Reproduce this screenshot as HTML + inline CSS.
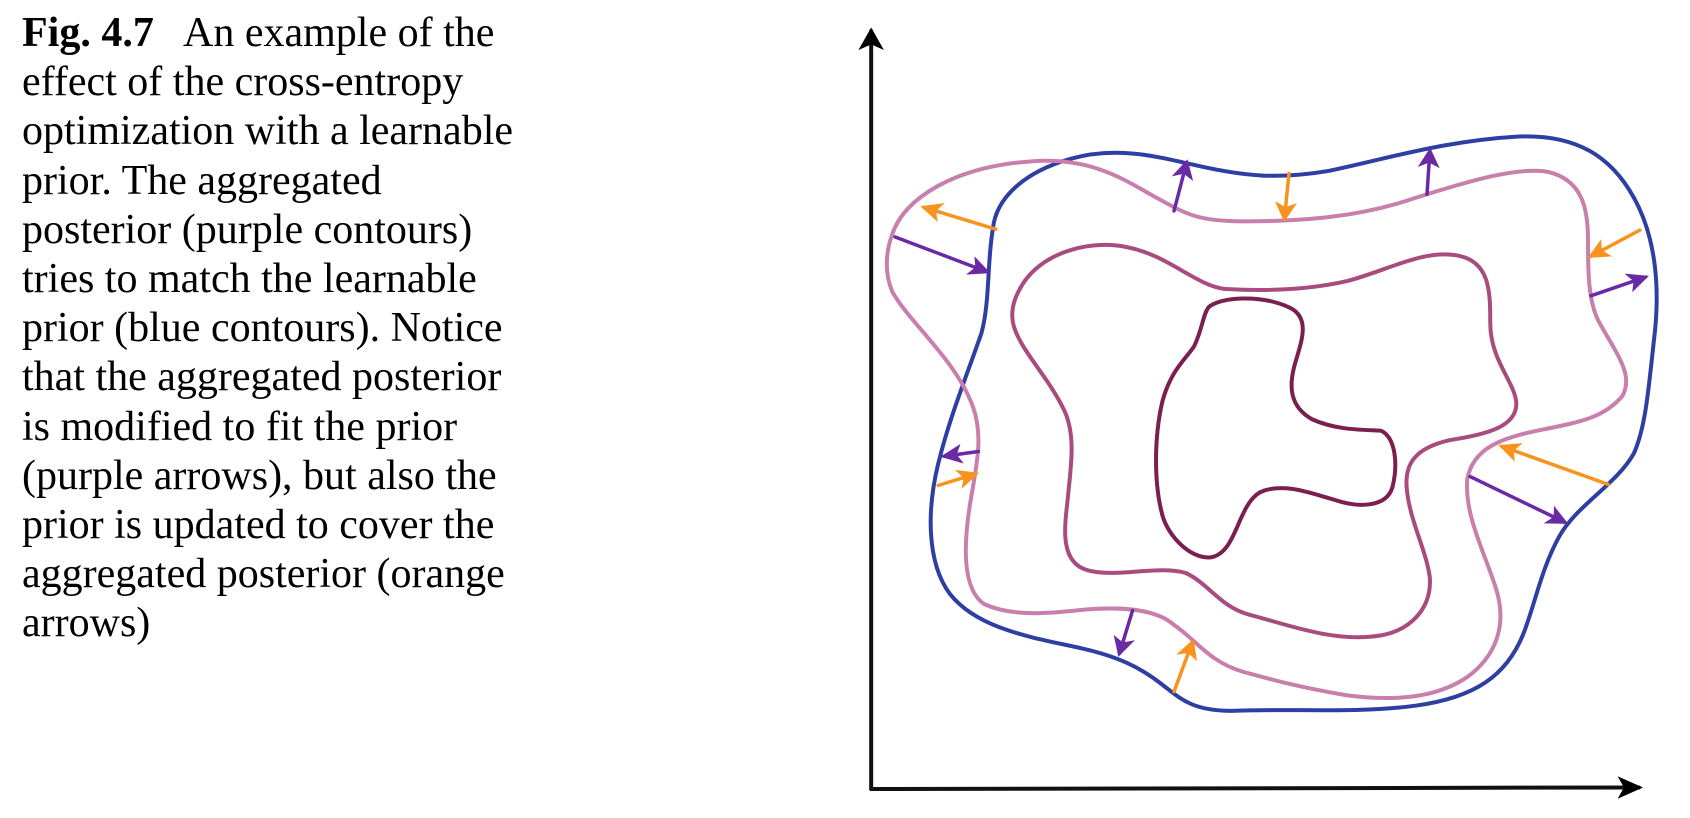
<!DOCTYPE html>
<html><head><meta charset="utf-8"><style>
html,body{margin:0;padding:0;background:#fff;width:1690px;height:818px;overflow:hidden}
#cap{position:absolute;left:22px;top:9px;font-family:"Liberation Serif",serif;font-size:42px;line-height:49.2px;color:#000;white-space:pre}
svg{position:absolute;left:0;top:0}
</style></head><body>
<div id="cap"><b>Fig. 4.7</b>   An example of the
effect of the cross-entropy
optimization with a learnable
prior. The aggregated
posterior (purple contours)
tries to match the learnable
prior (blue contours). Notice
that the aggregated posterior
is modified to fit the prior
(purple arrows), but also the
prior is updated to cover the
aggregated posterior (orange
arrows)</div>
<svg width="1690" height="818">
<defs>
<marker id="ha" markerWidth="6" markerHeight="6" refX="5" refY="3" orient="auto" markerUnits="strokeWidth"><path d="M0,0 L6,3 L0,6 L1.5,3 Z" fill="#000"/></marker>
<marker id="ho" markerWidth="6" markerHeight="6" refX="5" refY="3" orient="auto" markerUnits="strokeWidth"><path d="M0,0 L6,3 L0,6 L1.5,3 Z" fill="#f7931e"/></marker>
<marker id="hp" markerWidth="6" markerHeight="6" refX="5" refY="3" orient="auto" markerUnits="strokeWidth"><path d="M0,0 L6,3 L0,6 L1.5,3 Z" fill="#6a2aa5"/></marker>
</defs>
<g transform="translate(780,0) scale(0.5882,0.5208)" fill="none" stroke-linecap="round">
<line x1="155" y1="1515" x2="155" y2="60" stroke="#111" stroke-width="4" vector-effect="non-scaling-stroke" marker-end="url(#ha)"/>
<line x1="155" y1="1515" x2="1460" y2="1512" stroke="#111" stroke-width="4" vector-effect="non-scaling-stroke" marker-end="url(#ha)"/>
</g>
<g transform="translate(783,0) scale(0.575,0.5208)" fill="none" stroke-linecap="round">
<path stroke="#2e3fa3" stroke-width="4" vector-effect="non-scaling-stroke" d="M365,440 C370,380 420,330 500,305 C580,280 650,300 720,318 C800,338 860,345 950,328 C1050,305 1150,270 1280,262 C1380,258 1440,300 1480,380 C1520,460 1525,560 1515,650 C1505,750 1500,820 1480,870 C1450,930 1380,970 1350,1030 C1320,1090 1310,1150 1290,1210 C1260,1300 1200,1340 1100,1355 C1000,1370 880,1360 780,1365 C710,1365 690,1340 660,1315 C620,1280 580,1260 520,1245 C440,1225 340,1210 290,1140 C250,1080 250,980 270,890 C290,800 320,720 345,640 C360,580 355,500 365,440 Z"/>
<path stroke="#c87fab" stroke-width="4" vector-effect="non-scaling-stroke" d="M190,450 C210,380 300,320 430,310 C540,300 600,350 650,380 C700,410 720,425 800,425 C900,425 1000,418 1100,380 C1200,345 1280,320 1330,330 C1390,345 1400,400 1400,460 C1400,520 1400,580 1420,620 C1450,680 1480,720 1460,760 C1430,800 1390,810 1320,825 C1250,840 1200,860 1190,920 C1185,990 1220,1060 1240,1130 C1260,1200 1240,1260 1190,1300 C1130,1345 1050,1345 980,1335 C900,1320 850,1305 800,1290 C740,1270 720,1230 680,1200 C650,1170 590,1165 530,1170 C460,1178 400,1185 350,1160 C310,1130 315,1040 325,970 C335,900 350,840 330,780 C300,690 220,620 190,560 C175,520 180,480 190,450 Z"/>
<path stroke="#a84c80" stroke-width="4" vector-effect="non-scaling-stroke" d="M420,540 C460,480 540,460 600,475 C670,490 720,550 770,555 C850,560 920,555 980,540 C1050,520 1110,480 1170,490 C1230,500 1230,560 1230,620 C1230,690 1270,730 1275,770 C1280,820 1220,835 1160,845 C1100,860 1080,890 1085,940 C1090,1000 1120,1060 1125,1110 C1128,1170 1090,1210 1040,1220 C960,1235 880,1200 810,1180 C760,1165 740,1120 700,1100 C650,1085 580,1110 530,1095 C480,1080 490,1010 495,960 C500,900 510,840 490,790 C460,720 410,670 400,620 C395,590 405,565 420,540 Z"/>
<path stroke="#7a1f50" stroke-width="4" vector-effect="non-scaling-stroke" d="M740,590 C760,570 830,565 880,590 C920,610 900,660 890,700 C880,740 880,780 920,805 C960,825 1000,825 1040,827 C1065,840 1070,890 1060,935 C1050,975 1000,975 960,960 C920,948 870,925 830,945 C790,970 790,1060 745,1070 C710,1075 670,1030 660,990 C645,930 645,840 660,770 C675,710 700,690 715,665 C730,630 730,605 740,590 Z"/>
<g stroke-width="3.5">
<line x1="370" y1="440" x2="245" y2="398" stroke="#f7931e" vector-effect="non-scaling-stroke" marker-end="url(#ho)"/>
<line x1="195" y1="455" x2="355" y2="522" stroke="#6a2aa5" vector-effect="non-scaling-stroke" marker-end="url(#hp)"/>
<line x1="680" y1="405" x2="702" y2="312" stroke="#6a2aa5" vector-effect="non-scaling-stroke" marker-end="url(#hp)"/>
<line x1="880" y1="333" x2="872" y2="420" stroke="#f7931e" vector-effect="non-scaling-stroke" marker-end="url(#ho)"/>
<line x1="1120" y1="373" x2="1125" y2="290" stroke="#6a2aa5" vector-effect="non-scaling-stroke" marker-end="url(#hp)"/>
<line x1="1490" y1="442" x2="1405" y2="492" stroke="#f7931e" vector-effect="non-scaling-stroke" marker-end="url(#ho)"/>
<line x1="1405" y1="568" x2="1500" y2="532" stroke="#6a2aa5" vector-effect="non-scaling-stroke" marker-end="url(#hp)"/>
<line x1="1435" y1="930" x2="1250" y2="857" stroke="#f7931e" vector-effect="non-scaling-stroke" marker-end="url(#ho)"/>
<line x1="1195" y1="915" x2="1360" y2="1003" stroke="#6a2aa5" vector-effect="non-scaling-stroke" marker-end="url(#hp)"/>
<line x1="340" y1="867" x2="280" y2="876" stroke="#6a2aa5" vector-effect="non-scaling-stroke" marker-end="url(#hp)"/>
<line x1="270" y1="932" x2="335" y2="910" stroke="#f7931e" vector-effect="non-scaling-stroke" marker-end="url(#ho)"/>
<line x1="608" y1="1172" x2="585" y2="1255" stroke="#6a2aa5" vector-effect="non-scaling-stroke" marker-end="url(#hp)"/>
<line x1="680" y1="1328" x2="712" y2="1233" stroke="#f7931e" vector-effect="non-scaling-stroke" marker-end="url(#ho)"/>
</g>
</g>
</svg>
</body></html>
